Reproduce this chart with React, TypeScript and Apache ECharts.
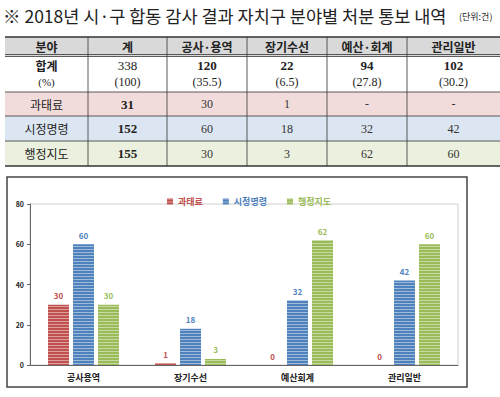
import React, { useEffect, useRef } from "react";
import * as echarts from "echarts";

const title = "※ 2018년 시·구 합동 감사 결과 자치구 분야별 처분 통보 내역";
const unitNote = "(단위:건)";
const headers = ["분야", "계", "공사·용역", "장기수선", "예산·회계", "관리일반"];
const totalLabel = "합계";
const totalPctLabel = "(%)";
const totalRow = ["338", "120", "22", "94", "102"];
const pctRow = ["(100)", "(35.5)", "(6.5)", "(27.8)", "(30.2)"];
const seriesNames = ["과태료", "시정명령", "행정지도"];
const rowTotals = ["31", "152", "155"];
const rowCells = [
  ["30", "1", "-", "-"],
  ["60", "18", "32", "42"],
  ["30", "3", "62", "60"],
];
const chartCategories = ["공사용역", "장기수선", "예산회계", "관리일반"];
const fineValues = [30, 1, 0, 0];
const correctionValues = [60, 18, 32, 42];
const guidanceValues = [30, 3, 62, 60];
const yTicks = { min: 0, max: 80, interval: 20 };

const seriesColors = ["#c0504d", "#4f81bd", "#9bbb59"];
const labelColors = ["#c0504d", "#4f81bd", "#9bbb59"];
const rowBgs = ["#f2dcdb", "#dce6f2", "#ebf1de"];

const KR = "'Noto Sans CJK KR', 'Noto Sans', sans-serif";
const SERIF = "'Liberation Serif', 'DejaVu Serif', serif";

export default function App() {
  const ref = useRef<HTMLDivElement>(null);
  useEffect(() => {
    if (!ref.current) return;
    const chart = echarts.init(ref.current, null, { renderer: "svg" });

    const colX = [5, 88, 167, 247, 327, 407, 500];
    const rowY = [37, 56, 92, 116, 141, 166];
    const cx = (i: number) => (colX[i] + colX[i + 1]) / 2;
    const cy = (r: number) => (rowY[r] + rowY[r + 1]) / 2;
    const g: any[] = [];

    g.push({
      type: "text",
      left: 3,
      top: 7,
      style: { text: title, font: `17.5px ${KR}`, fill: "#222" },
    });
    g.push({
      type: "text",
      left: 459,
      top: 12,
      style: { text: unitNote, font: `9px ${KR}`, fill: "#222" },
    });

    // backgrounds
    g.push({ type: "rect", shape: { x: colX[0], y: rowY[0], width: 495, height: rowY[1] - rowY[0] }, style: { fill: "#d9d9d9" } });
    for (let r = 0; r < 3; r++) {
      g.push({ type: "rect", shape: { x: colX[0], y: rowY[r + 2], width: 495, height: rowY[r + 3] - rowY[r + 2] }, style: { fill: rowBgs[r] } });
    }
    // horizontal lines
    const hl = (y: number, w: number) =>
      g.push({ type: "line", shape: { x1: colX[0], y1: y, x2: 500, y2: y }, style: { stroke: "#333", lineWidth: w } });
    hl(rowY[0], 1.5);
    hl(rowY[1] - 1.5, 0.8);
    hl(rowY[1] + 0.5, 0.8);
    hl(rowY[2], 0.8);
    hl(rowY[3], 0.8);
    hl(rowY[4], 0.8);
    hl(rowY[5], 1.5);
    for (let i = 1; i < 6; i++) {
      g.push({ type: "line", shape: { x1: colX[i], y1: rowY[0], x2: colX[i], y2: rowY[5] }, style: { stroke: "#333", lineWidth: 0.8 } });
    }
    // header
    headers.forEach((h, i) => {
      g.push({ type: "text", x: cx(i), y: cy(0), style: { text: h, font: `bold 12px ${KR}`, fill: "#222", align: "center", verticalAlign: "middle" } });
    });
    // total row
    g.push({ type: "text", x: cx(0), y: 65, style: { text: totalLabel, font: `bold 12px ${KR}`, fill: "#222", align: "center", verticalAlign: "middle" } });
    g.push({ type: "text", x: cx(0), y: 82, style: { text: totalPctLabel, font: `11px ${SERIF}`, fill: "#222", align: "center", verticalAlign: "middle" } });
    totalRow.forEach((t, i) => {
      g.push({ type: "text", x: cx(i + 1), y: 65, style: { text: t, font: `${i === 0 ? "" : "bold "}13px ${SERIF}`, fill: "#222", align: "center", verticalAlign: "middle" } });
      g.push({ type: "text", x: cx(i + 1), y: 82, style: { text: pctRow[i], font: `12px ${SERIF}`, fill: "#222", align: "center", verticalAlign: "middle" } });
    });
    seriesNames.forEach((n, r) => {
      const y = cy(r + 2);
      g.push({ type: "text", x: cx(0), y, style: { text: n, font: `12px ${KR}`, fill: "#222", align: "center", verticalAlign: "middle" } });
      g.push({ type: "text", x: cx(1), y, style: { text: rowTotals[r], font: `bold 13px ${SERIF}`, fill: "#222", align: "center", verticalAlign: "middle" } });
      rowCells[r].forEach((v, i) => {
        g.push({ type: "text", x: cx(i + 2), y, style: { text: v, font: `12px ${SERIF}`, fill: "#333", align: "center", verticalAlign: "middle" } });
      });
    });
    // chart frame
    g.push({ type: "rect", shape: { x: 7, y: 177, width: 460, height: 210 }, style: { fill: "none", stroke: "#444", lineWidth: 1.5 }, z: 10 });

    const decal = {
      symbol: "rect",
      symbolSize: 1,
      dashArrayX: [1, 0],
      dashArrayY: [1, 2],
      rotation: 0,
      color: "rgba(255,255,255,0.45)",
    };
    const values = [fineValues, correctionValues, guidanceValues];

    chart.setOption({
      animation: false,
      aria: { enabled: false },
      graphic: g,
      legend: {
        left: 162,
        top: 192,
        icon: "rect",
        itemWidth: 6,
        itemHeight: 6,
        itemGap: 20,
        textStyle: { fontFamily: KR, fontSize: 9, fontWeight: "bold" },
        data: seriesNames.map((n, i) => ({ name: n, textStyle: { color: labelColors[i] } })),
      },
      grid: { left: 30, right: 42, top: 204, bottom: 32, show: true, borderColor: "#d0d0d0", borderWidth: 1, backgroundColor: "transparent" },
      xAxis: {
        type: "category",
        data: chartCategories,
        axisLine: { lineStyle: { color: "#666" } },
        axisTick: { show: false },
        axisLabel: { color: "#222", fontFamily: KR, fontSize: 9, fontWeight: "bold", margin: 8 },
      },
      yAxis: {
        type: "value",
        min: yTicks.min,
        max: yTicks.max,
        interval: yTicks.interval,
        axisLine: { show: true, lineStyle: { color: "#666" } },
        axisTick: { show: true, length: 3, lineStyle: { color: "#666" } },
        splitLine: { show: false },
        axisLabel: { color: "#222", fontFamily: KR, fontSize: 7, fontWeight: "bold", margin: 6 },
      },
      series: seriesNames.map((n, i) => ({
        name: n,
        type: "bar",
        data: values[i],
        barWidth: 21,
        barGap: "19%",
        itemStyle: { color: seriesColors[i], decal },
        label: { show: true, position: "top", distance: 5, color: labelColors[i], fontFamily: KR, fontSize: 8, fontWeight: "bold" },
      })),
    });
    return () => chart.dispose();
  }, []);
  return <div ref={ref} style={{ position: "fixed", left: 0, top: 0, width: 500, height: 397, background: "#fff" }} />;
}
